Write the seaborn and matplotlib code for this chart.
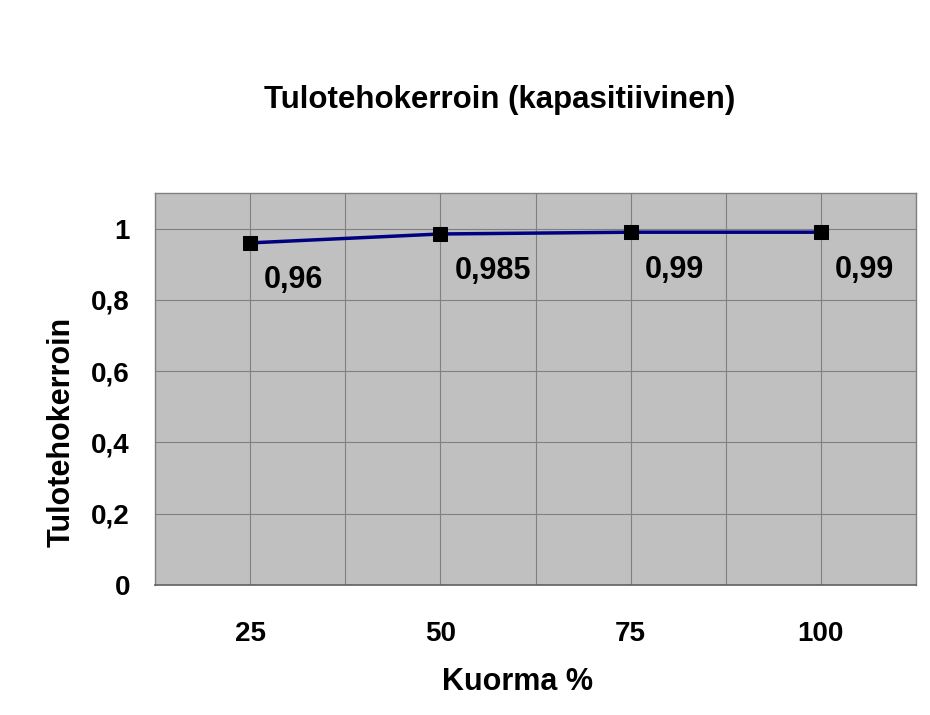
import matplotlib
matplotlib.use("Agg")
import matplotlib.pyplot as plt
import seaborn as sns
import pandas as pd
from matplotlib.ticker import FixedLocator

categories = ["25", "50", "75", "100"]
values = [0.96, 0.985, 0.99, 0.99]
value_labels = ["0,96", "0,985", "0,99", "0,99"]
yticks = [0, 0.2, 0.4, 0.6, 0.8, 1.0]
ytick_labels = ["0", "0,2", "0,4", "0,6", "0,8", "1"]

sns.set_style("white")
plt.rcParams["font.family"] = ["Liberation Sans", "DejaVu Sans"]
plt.rcParams["font.weight"] = "bold"
plt.rcParams["text.color"] = "black"
plt.rcParams["axes.labelcolor"] = "black"
plt.rcParams["xtick.color"] = "black"
plt.rcParams["ytick.color"] = "black"

df = pd.DataFrame({"pos": range(len(categories)), "val": values})

fig = plt.figure(figsize=(9.3, 7.15), dpi=100)
ax = fig.add_axes([155/930, 1 - 585/715, (916-155)/930, (585-193)/715])
ax.set_facecolor("#C0C0C0")

sns.lineplot(data=df, x="pos", y="val", ax=ax, color="#000080", linewidth=2.5,
             marker="s", markersize=10, markerfacecolor="black",
             markeredgecolor="black", zorder=3)

ax.set_xlim(-0.5, len(categories) - 0.5)
ax.set_ylim(0, 1.1)

ax.xaxis.set_major_locator(FixedLocator(list(range(len(categories)))))
ax.set_xticklabels(categories, fontsize=20, fontweight="bold", color="black")
ax.xaxis.set_minor_locator(FixedLocator([i - 0.5 for i in range(len(categories) + 1)]))
ax.tick_params(axis="x", which="major", length=0, pad=26, labelcolor="black")
ax.tick_params(axis="x", which="minor", length=8, width=0.8, color="#808080", direction="out")

ax.set_yticks(yticks)
ax.set_yticklabels(ytick_labels, fontsize=20, fontweight="bold", color="black")
ax.tick_params(axis="y", which="major", length=8, width=0.8, color="#808080", pad=10,
               labelcolor="black")

ax.grid(True, which="both", axis="x", color="#808080", linewidth=0.8)
ax.grid(True, which="major", axis="y", color="#808080", linewidth=0.8)
ax.set_axisbelow(True)

for s in ["top", "right", "left"]:
    ax.spines[s].set_color("#808080")
    ax.spines[s].set_linewidth(1.0)
ax.spines["bottom"].set_color("#606060")
ax.spines["bottom"].set_linewidth(1.2)

for i, (v, lab) in enumerate(zip(values, value_labels)):
    ax.annotate(lab, (i, v), xytext=(10, -27), textcoords="offset points",
                ha="left", va="center", fontsize=22, fontweight="bold", color="black")

ax.set_xlabel("Kuorma %", fontsize=22, fontweight="bold", color="black")
ax.xaxis.set_label_coords((518 - 155) / (916 - 155), -(682 - 585) / (585 - 193))
ax.xaxis.label.set_va("center")
ax.set_ylabel("Tulotehokerroin", fontsize=22, fontweight="bold", color="black")
ax.yaxis.set_label_coords(-(155 - 62) / (916 - 155), (585 - 432) / (585 - 193))
ax.yaxis.label.set_va("center")

fig.text(500/930, 1 - 100/715, "Tulotehokerroin (kapasitiivinen)", ha="center", va="center",
         fontsize=22.5, fontweight="bold", color="black")

fig.savefig("out.png", dpi=100)
